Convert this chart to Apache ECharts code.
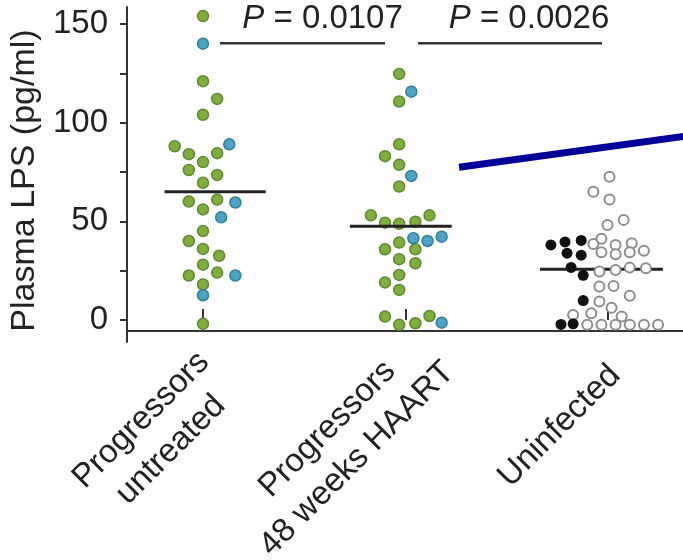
<!DOCTYPE html>
<html><head><meta charset="utf-8">
<script src="https://cdn.jsdelivr.net/npm/echarts@6/dist/echarts.min.js"></script>
<style>html,body{margin:0;padding:0;background:#fff}#c{width:683px;height:560px}</style>
</head><body><div id="c"></div>
<script>
// ---------- data ----------
const categories = ['Progressors\nuntreated', 'Progressors\n48 weeks HAART', 'Uninfected'];
const categoryPositions = [1, 2, 3];
const yTickValues = [0, 25, 50, 75, 100, 125, 150];
const yLabelValues = [0, 50, 100, 150];

// [x position (category index + swarm offset), LPS pg/ml]
const greenPoints = [
  [1.00,154],[1.00,121],[1.07,112],[1.00,104],[0.86,88],[0.93,84],[1.07,84.5],[1.00,80],
  [0.93,76],[1.07,73.5],[1.00,69.5],[1.07,61],[0.93,60],[1.00,56],[1.00,45],[0.93,40],
  [1.00,36],[1.08,32.5],[1.00,28],[0.93,22.5],[1.07,24],[1.00,18],[1.00,-2],
  [1.97,124.7],[1.97,110.7],[1.97,89],[1.90,83],[1.97,78.6],[1.97,67.6],[1.83,53],[1.90,49.3],
  [1.97,48.7],[2.05,49.8],[2.12,53],[1.97,39.2],[1.90,35.8],[2.05,35.8],[1.97,30.8],[2.05,28.7],
  [1.97,22.8],[1.90,19],[1.97,15.2],[1.90,1.7],[1.97,-2.5],[2.05,-1.7],[2.12,2]
];
const bluePoints = [
  [1.00,140],[1.13,89],[1.16,59.5],[1.09,52],[1.16,22.5],[1.00,12.5],
  [2.03,115.7],[2.03,73],[2.04,41.4],[2.11,40],[2.18,42.2],[2.18,-1.4]
];
const uninfectedFilled = [
  [2.72,38],[2.79,39.5],[2.87,40.3],[2.80,33.8],[2.87,32.8],[2.82,26.6],[2.88,22.6],[2.88,9.8],
  [2.77,-2.3],[2.83,-2]
];
const uninfectedOpen = [
  [3.01,72.6],[2.93,65],[3.01,61],[3.00,48.1],[3.08,50.7],[2.97,41.1],[2.93,38.5],[3.04,38],
  [3.12,38.9],[3.18,35],[2.97,34.3],[3.04,33.3],[3.11,34.3],[2.96,24.5],[3.04,25.3],[3.11,26.5],
  [3.19,26.2],[2.96,16.9],[3.03,17.2],[3.11,12.3],[2.96,9.3],[3.02,6.2],[2.92,3.4],[2.83,2.5],
  [3.07,1.7],[2.90,-2.5],[2.97,-2.5],[3.04,-2.5],[3.11,-2.5],[3.18,-2.5],[3.25,-2.5]
];
const meanValues = [65, 47.5, 25.7];
// comparisons: [from category pos, to category pos, bar level]
const comparisonBars = [[1.084, 1.900, 140.2], [2.063, 2.973, 140.2]];
const pValues = ['0.0107', '0.0026'];
const annotationLine = [[2.266, 77.4], [3.42, 93.6]];

// ---------- style / layout ----------
const FONT = '"Liberation Sans", Arial, Helvetica, sans-serif';
const FS = 33;
const TXT = '#222';
const meanSpanOffsets = [[-0.19, 0.31], [-0.274, 0.23], [-0.334, 0.274]];
const pTextPos = [[1.591, 152.6], [2.612, 152.6]];
const labelPixelOffsets = [[-47, 93], [-63, 102], [-48, 84]]; // label block centre, relative to tick foot
const xAxisLevel = -5.6;
const X_MIN = 0.6242, X_MAX = 3.3733, Y_MIN = -11.2, Y_MAX = 158.6;

const chart = echarts.init(document.getElementById('c'), null, {renderer: 'canvas'});
chart.setOption({
  animation: false,
  backgroundColor: '#fff',
  grid: {left: 127, right: 0, top: 7, bottom: 218, containLabel: false, outerBoundsMode: 'none'},
  xAxis: {
    type: 'value', min: X_MIN, max: X_MAX,
    axisLine: {show: false},
    splitLine: {show: false},
    axisTick: {show: true, inside: true, length: 11, customValues: categoryPositions,
      lineStyle: {color: '#333', width: 2}},
    axisLabel: {show: false}
  },
  yAxis: {
    type: 'value', min: Y_MIN, max: Y_MAX,
    axisLine: {show: true, lineStyle: {color: '#333', width: 2}},
    splitLine: {show: false},
    axisTick: {show: true, customValues: yTickValues, length: 7, lineStyle: {color: '#333', width: 2}},
    axisLabel: {customValues: yLabelValues, fontSize: FS, color: TXT, margin: 19, fontFamily: FONT},
    name: 'Plasma LPS (pg/ml)', nameLocation: 'middle', nameGap: 82,
    nameTextStyle: {fontSize: 34, color: TXT, fontFamily: FONT, padding: [0, 12, 0, 0]}
  },
  series: [
    { // x axis baseline
      type: 'custom', z: 1, silent: true,
      data: [[X_MIN, X_MAX, xAxisLevel]],
      renderItem: (params, api) => {
        const a = api.coord([api.value(0), api.value(2)]);
        const b = api.coord([api.value(1), api.value(2)]);
        return {type: 'line', shape: {x1: a[0] - 1, y1: a[1], x2: b[0], y2: b[1]},
          style: {stroke: '#333', lineWidth: 2}};
      }
    },
    { // rotated category labels
      type: 'custom', z: 1, silent: true,
      data: categoryPositions.map(p => [p, Y_MIN]),
      renderItem: (params, api) => {
        const i = params.dataIndex;
        const p = api.coord([api.value(0), api.value(1)]);
        const txt = categories[i].split('\n').map(s => '{c|' + s + '}').join('\n');
        return {type: 'text', x: p[0] + labelPixelOffsets[i][0], y: p[1] + labelPixelOffsets[i][1],
          rotation: Math.PI / 4,
          style: {text: txt, align: 'center', verticalAlign: 'middle', fill: TXT,
            fontSize: FS, fontFamily: FONT,
            rich: {c: {align: 'center', fontSize: FS, lineHeight: 42, fill: TXT, fontFamily: FONT}}}};
      }
    },
    {
      type: 'scatter', z: 2, symbolSize: 11, data: greenPoints,
      itemStyle: {color: '#80ad3f', borderColor: '#5d8a2c', borderWidth: 1.5, opacity: 1}
    },
    {
      type: 'scatter', z: 2, symbolSize: 11, data: bluePoints,
      itemStyle: {color: '#4fa3c2', borderColor: '#2f7f9c', borderWidth: 1.5, opacity: 1}
    },
    { // mean lines
      type: 'custom', z: 3, silent: true,
      data: meanValues.map((m, i) => [categoryPositions[i], m]),
      renderItem: (params, api) => {
        const i = params.dataIndex;
        const c = api.value(0), m = api.value(1);
        const a = api.coord([c + meanSpanOffsets[i][0], m]);
        const b = api.coord([c + meanSpanOffsets[i][1], m]);
        return {type: 'line', shape: {x1: a[0], y1: a[1], x2: b[0], y2: b[1]},
          style: {stroke: '#222', lineWidth: 3}};
      }
    },
    {
      type: 'scatter', z: 4, symbolSize: 10, data: uninfectedOpen,
      itemStyle: {color: '#fff', borderColor: '#8d8d8d', borderWidth: 2, opacity: 1}
    },
    {
      type: 'scatter', z: 5, symbolSize: 11, data: uninfectedFilled,
      itemStyle: {color: '#111', opacity: 1}
    },
    { // comparison bars + P values
      type: 'custom', z: 6, silent: true,
      data: comparisonBars,
      renderItem: (params, api) => {
        const i = params.dataIndex;
        const a = api.coord([api.value(0), api.value(2)]);
        const b = api.coord([api.value(1), api.value(2)]);
        const t = api.coord(pTextPos[i]);
        return {type: 'group', children: [
          {type: 'line', shape: {x1: a[0], y1: a[1], x2: b[0], y2: b[1]},
            style: {stroke: '#333', lineWidth: 2.5}},
          {type: 'text', x: t[0], y: t[1], style: {
            text: '{i|P} = ' + pValues[i], fontSize: FS, fontFamily: FONT, fill: TXT,
            align: 'center', verticalAlign: 'middle',
            rich: {i: {fontStyle: 'italic', fontSize: FS, fontFamily: FONT, fill: TXT}}
          }}
        ]};
      }
    },
    { // navy annotation stroke
      type: 'line', z: 7, silent: true, clip: true, symbol: 'none',
      data: annotationLine,
      lineStyle: {color: '#000099', width: 7}
    }
  ]
});
</script></body></html>
